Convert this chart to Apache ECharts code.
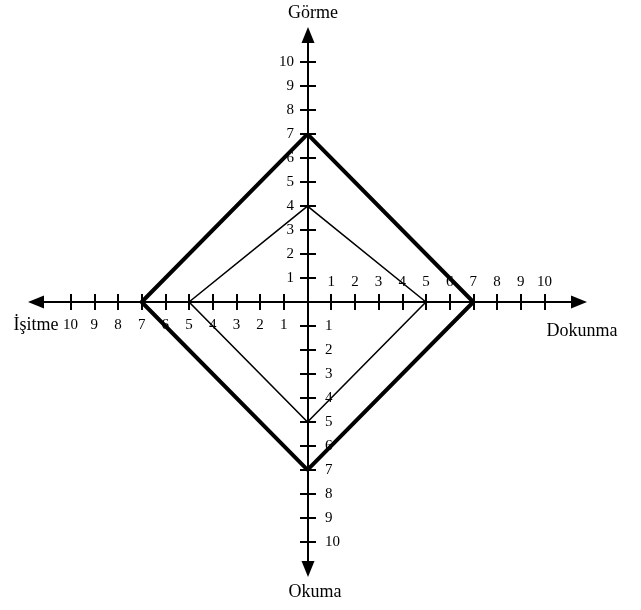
<!DOCTYPE html>
<html>
<head>
<meta charset="utf-8">
<script src="https://cdn.jsdelivr.net/npm/echarts@6/dist/echarts.min.js"></script>
<style>
  html, body { margin: 0; padding: 0; background: #fff; }
  #chart { width: 641px; height: 610px; }
</style>
</head>
<body>
<div id="chart"></div>
<script>
// yönler (up, right, down, left)
const directions = ["Görme", "Dokunma", "Okuma", "İşitme"];
const outerValues = [7, 7, 7, 7];
const innerValues = [4, 5, 5, 5];
const tickValues = [-10, -9, -8, -7, -6, -5, -4, -3, -2, -1, 1, 2, 3, 4, 5, 6, 7, 8, 9, 10];
const positiveLabels = [1, 2, 3, 4, 5, 6, 7, 8, 9, 10];
const negativeLabels = [-10, -9, -8, -7, -6, -5, -4, -3, -2, -1];
const xRange = [-11.46, 11.46];
const yRange = [-11.13, 11.13];

const dirVec = { "Görme": [0, 1], "Dokunma": [1, 0], "Okuma": [0, -1], "İşitme": [-1, 0] };
function ring(values) {
  let pts = directions.map(function (d, i) {
    return [dirVec[d][0] * values[i], dirVec[d][1] * values[i]];
  });
  pts.push(pts[0]);
  return pts;
}

const font = "Liberation Serif";
const lineStyle = { color: "#000", width: 2 };
const absLabel = function (v) { return String(Math.abs(v)); };
const labelStyle = { color: "#000", fontFamily: font, fontSize: 15 };
const nameStyle = { color: "#000", fontFamily: font, fontSize: 18 };

function hiddenAxis(range, gridIndex) {
  return { type: "value", gridIndex: gridIndex, min: range[0], max: range[1], show: false };
}

let chart = echarts.init(document.getElementById("chart"));
let option = {
  animation: false,
  grid: [
    // plot area
    { left: 36, right: 62, top: 35, bottom: 41, outerBoundsMode: "none" },
    // horizontal axis strip
    { left: 36, right: 62, top: 302, height: 0, outerBoundsMode: "none" },
    // vertical axis strip
    { left: 308, width: 0, top: 35, bottom: 41, outerBoundsMode: "none" }
  ],
  xAxis: [
    hiddenAxis(xRange, 0),
    {
      type: "value", gridIndex: 1, min: xRange[0], max: xRange[1], position: "bottom",
      axisLine: { onZero: false, symbol: ["triangle", "triangle"], symbolSize: [13, 16], lineStyle: lineStyle },
      axisTick: { customValues: tickValues, length: 8, lineStyle: lineStyle },
      axisLabel: Object.assign({ customValues: negativeLabels, formatter: absLabel, margin: 16 }, labelStyle),
      splitLine: { show: false },
      name: directions[1], nameLocation: "end", nameGap: 3,
      nameTextStyle: Object.assign({ align: "center", verticalAlign: "top", padding: [20, 0, 0, 0] }, nameStyle)
    },
    {
      type: "value", gridIndex: 1, min: xRange[0], max: xRange[1], position: "top",
      axisLine: { onZero: false, lineStyle: lineStyle },
      axisTick: { customValues: tickValues, length: 8, lineStyle: lineStyle },
      axisLabel: Object.assign({ customValues: positiveLabels, margin: 12 }, labelStyle),
      splitLine: { show: false },
      name: directions[3], nameLocation: "start", nameGap: 0,
      nameTextStyle: Object.assign({ align: "center", verticalAlign: "top", padding: [14, 0, 0, 0] }, nameStyle)
    },
    hiddenAxis(xRange, 2)
  ],
  yAxis: [
    hiddenAxis(yRange, 0),
    hiddenAxis(yRange, 1),
    {
      type: "value", gridIndex: 2, min: yRange[0], max: yRange[1], position: "left",
      axisLine: { onZero: false, symbol: ["triangle", "triangle"], symbolSize: [13, 16], lineStyle: lineStyle },
      axisTick: { customValues: tickValues, length: 8, lineStyle: lineStyle },
      axisLabel: Object.assign({ customValues: positiveLabels, margin: 14 }, labelStyle),
      splitLine: { show: false },
      name: directions[0], nameLocation: "end", nameGap: 13,
      nameTextStyle: Object.assign({ padding: [0, 0, 0, 10] }, nameStyle)
    },
    {
      type: "value", gridIndex: 2, min: yRange[0], max: yRange[1], position: "right",
      axisLine: { onZero: false, lineStyle: lineStyle },
      axisTick: { customValues: tickValues, length: 8, lineStyle: lineStyle },
      axisLabel: Object.assign({ customValues: negativeLabels, formatter: absLabel, margin: 17 }, labelStyle),
      splitLine: { show: false },
      name: directions[2], nameLocation: "start", nameGap: 14,
      nameTextStyle: Object.assign({ padding: [0, 0, 0, 14] }, nameStyle)
    }
  ],
  series: [
    {
      type: "line", xAxisIndex: 0, yAxisIndex: 0, symbol: "none",
      lineStyle: { color: "#000", width: 4 },
      data: ring(outerValues)
    },
    {
      type: "line", xAxisIndex: 0, yAxisIndex: 0, symbol: "none",
      lineStyle: { color: "#000", width: 1.6 },
      data: ring(innerValues)
    }
  ]
};
chart.setOption(option);
</script>
</body>
</html>
